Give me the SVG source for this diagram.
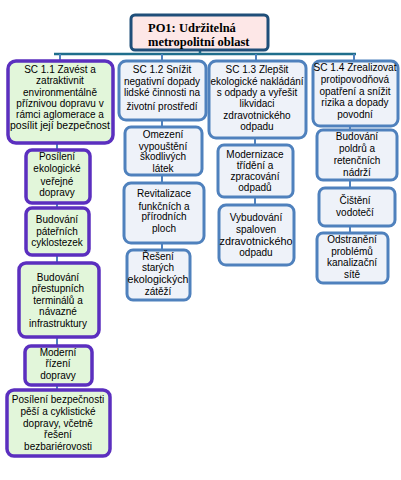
<svg xmlns="http://www.w3.org/2000/svg" width="401" height="480" viewBox="0 0 401 480">
<style>
text{font-family:"Liberation Sans",Arial,sans-serif;font-size:10px;fill:#000;text-anchor:middle}
.t{font-family:"Liberation Serif","Times New Roman",serif;font-weight:bold;font-size:12.5px;text-anchor:start}
.p{fill:#e2f6da;stroke:#5b2fbf;stroke-width:3.5}
.b{fill:#eef2f9;stroke:#4f81bd;stroke-width:3}
.top{fill:#fde7e7;stroke:#1f4e79;stroke-width:3}
.c{stroke:#4f81bd;stroke-width:2;fill:none}
.h{stroke:#1f6e8c;stroke-width:2.5;fill:none}
</style>
<rect width="401" height="480" fill="#fff"/>
<g id="connectors">
<line class="h" x1="54" y1="54" x2="356" y2="54"/>
<line class="h" x1="200" y1="50" x2="200" y2="54"/>
<line class="c" x1="60" y1="54" x2="60" y2="61"/>
<line class="c" x1="162" y1="54" x2="162" y2="61"/>
<line class="c" x1="256" y1="54" x2="256" y2="61"/>
<line class="c" x1="354" y1="54" x2="354" y2="61"/>
<line class="c" x1="57" y1="143" x2="57" y2="150"/>
<line class="c" x1="57" y1="203" x2="57" y2="208"/>
<line class="c" x1="57" y1="255" x2="57" y2="263"/>
<line class="c" x1="57" y1="337" x2="57" y2="346"/>
<line class="c" x1="57" y1="385" x2="57" y2="390"/>
<line class="c" x1="162" y1="120" x2="162" y2="127"/>
<line class="c" x1="162" y1="175" x2="162" y2="183"/>
<line class="c" x1="162" y1="243" x2="162" y2="250"/>
<line class="c" x1="255" y1="138" x2="255" y2="145"/>
<line class="c" x1="255" y1="197" x2="255" y2="205"/>
<line class="c" x1="350" y1="126" x2="350" y2="130"/>
<line class="c" x1="350" y1="180" x2="350" y2="188"/>
<line class="c" x1="350" y1="226" x2="350" y2="233"/>
</g>
<g id="po1">
<rect class="top" x="131" y="15" width="137" height="35" rx="4"/>
<text class="t" x="148" y="32">PO1: Udržitelná</text>
<text class="t" x="148" y="46">metropolitní oblast</text>
</g>
<g id="sc11">
<rect class="p" x="8" y="61" width="105" height="82" rx="8"/>
<text x="60" y="73">SC 1.1 Zavést a</text>
<text x="60" y="84">zatraktivnit</text>
<text x="60" y="95.5">environmentálně</text>
<text x="60" y="107">příznivou dopravu v</text>
<text x="60" y="118">rámci aglomerace a</text>
<text x="60" y="129" textLength="100" lengthAdjust="spacingAndGlyphs">posílit její bezpečnost</text>
</g>
<g id="sc12">
<rect class="b" x="119" y="61" width="87" height="59" rx="7"/>
<text x="162" y="73">SC 1.2 Snížit</text>
<text x="162" y="85">negativní dopady</text>
<text x="162" y="96">lidské činnosti na</text>
<text x="162" y="110">životní prostředí</text>
</g>
<g id="sc13">
<rect class="b" x="209" y="61" width="97" height="77" rx="7"/>
<text x="257" y="73">SC 1.3 Zlepšit</text>
<text x="257" y="85" textLength="93" lengthAdjust="spacingAndGlyphs">ekologické nakládání</text>
<text x="257" y="96">s odpady a vyřešit</text>
<text x="257" y="107">likvidaci</text>
<text x="257" y="119">zdravotnického</text>
<text x="257" y="130">odpadu</text>
</g>
<g id="sc14">
<rect class="b" x="313" y="61" width="85" height="65" rx="7"/>
<text x="355" y="71" textLength="83" lengthAdjust="spacingAndGlyphs">SC 1.4 Zrealizovat</text>
<text x="355" y="83">protipovodňová</text>
<text x="355" y="95">opatření a snížit</text>
<text x="355" y="106">rizika a dopady</text>
<text x="355" y="118">povodní</text>
</g>
<g id="n11a">
<rect class="p" x="26" y="150" width="64" height="53" rx="6"/>
<text x="57" y="160">Posílení</text>
<text x="57" y="172">ekologické</text>
<text x="57" y="185">veřejné</text>
<text x="57" y="196">dopravy</text>
</g>
<g id="n11b">
<rect class="p" x="26" y="208" width="63" height="47" rx="6"/>
<text x="57" y="223">Budování</text>
<text x="57" y="235">páteřních</text>
<text x="57" y="246">cyklostezek</text>
</g>
<g id="n11c">
<rect class="p" x="19" y="263" width="80" height="74" rx="7"/>
<text x="58" y="281">Budování</text>
<text x="58" y="292">přestupních</text>
<text x="58" y="304">terminálů a</text>
<text x="58" y="315">návazné</text>
<text x="58" y="327">infrastruktury</text>
</g>
<g id="n11d">
<rect class="p" x="25" y="346" width="67" height="39" rx="6"/>
<text x="58" y="356">Moderní</text>
<text x="58" y="367">řízení</text>
<text x="58" y="379">dopravy</text>
</g>
<g id="n11e">
<rect class="p" x="7" y="390" width="103" height="66" rx="7"/>
<text x="58" y="403">Posílení bezpečnosti</text>
<text x="58" y="415">pěší a cyklistické</text>
<text x="58" y="426.5">dopravy, včetně</text>
<text x="58" y="438">řešení</text>
<text x="58" y="449.5">bezbariérovosti</text>
</g>
<g id="n12a">
<rect class="b" x="125" y="127" width="77" height="48" rx="6"/>
<text x="163" y="138">Omezení</text>
<text x="163" y="150">vypouštění</text>
<text x="163" y="160">škodlivých</text>
<text x="163" y="172">látek</text>
</g>
<g id="n12b">
<rect class="b" x="124" y="183" width="80" height="60" rx="7"/>
<text x="164" y="197">Revitalizace</text>
<text x="164" y="210">funkčních a</text>
<text x="164" y="220">přírodních</text>
<text x="164" y="232">ploch</text>
</g>
<g id="n12c">
<rect class="b" x="127" y="250" width="63" height="50" rx="6"/>
<text x="158" y="260">Řešení</text>
<text x="158" y="271">starých</text>
<text x="158" y="283" textLength="61" lengthAdjust="spacingAndGlyphs">ekologických</text>
<text x="158" y="295">zátěží</text>
</g>
<g id="n13a">
<rect class="b" x="218" y="145" width="75" height="52" rx="6"/>
<text x="255" y="158">Modernizace</text>
<text x="255" y="169">třídění a</text>
<text x="255" y="180">zpracování</text>
<text x="255" y="191">odpadů</text>
</g>
<g id="n13b">
<rect class="b" x="219" y="205" width="75" height="60" rx="7"/>
<text x="256" y="221">Vybudování</text>
<text x="256" y="233">spaloven</text>
<text x="256" y="245" textLength="73" lengthAdjust="spacingAndGlyphs">zdravotnického</text>
<text x="256" y="256">odpadu</text>
</g>
<g id="n14a">
<rect class="b" x="317" y="130" width="80" height="50" rx="6"/>
<text x="357" y="140">Budování</text>
<text x="357" y="152">poldrů a</text>
<text x="357" y="164">retenčních</text>
<text x="357" y="176">nádrží</text>
</g>
<g id="n14b">
<rect class="b" x="319" y="188" width="76" height="38" rx="6"/>
<text x="355" y="204">Čištění</text>
<text x="355" y="216">vodotečí</text>
</g>
<g id="n14c">
<rect class="b" x="317" y="233" width="71" height="50" rx="6"/>
<text x="352" y="243">Odstranění</text>
<text x="352" y="255">problémů</text>
<text x="352" y="266">kanalizační</text>
<text x="352" y="278">sítě</text>
</g>
</svg>
